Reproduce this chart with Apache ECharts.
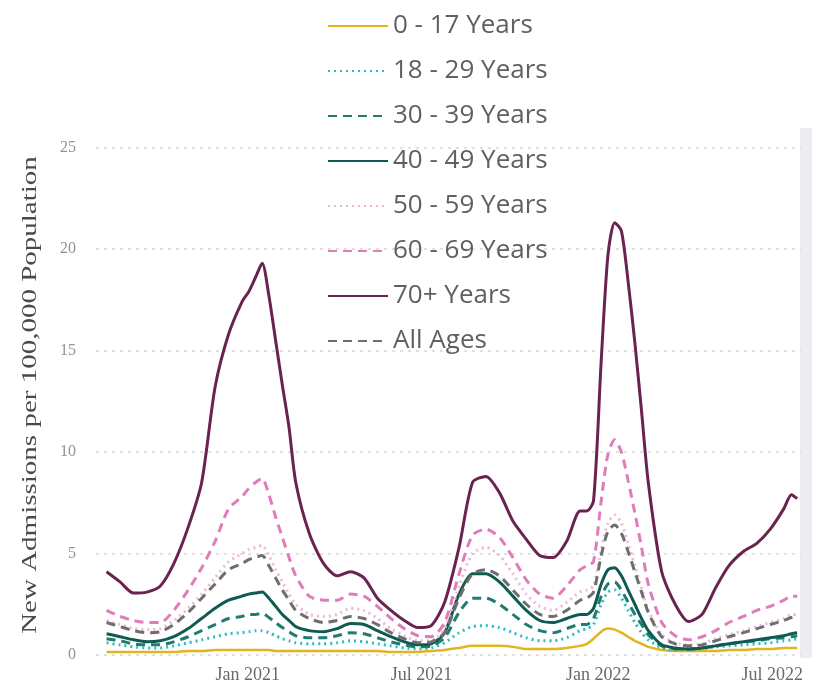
<!DOCTYPE html>
<html>
<head>
<meta charset="utf-8">
<script src="https://cdn.jsdelivr.net/npm/echarts@6/dist/echarts.min.js"></script>
<style>
html,body{margin:0;padding:0;background:#fff;}
#chart{width:824px;height:687px;}
</style>
</head>
<body>
<div id="chart"></div>
<script>
// ---- data ----
const dates = [
 '2020-08-07','2020-08-21','2020-09-04','2020-09-18','2020-10-02','2020-10-16','2020-10-31','2020-11-14','2020-11-28','2020-12-12',
 '2020-12-26','2021-01-02','2021-01-09','2021-01-16','2021-01-23','2021-01-30','2021-02-06','2021-02-13','2021-02-20','2021-03-06',
 '2021-03-21','2021-04-04','2021-04-18','2021-05-02','2021-05-16','2021-05-30','2021-06-13','2021-06-27','2021-07-11','2021-07-25',
 '2021-08-09','2021-08-23','2021-09-06','2021-09-20','2021-10-04','2021-10-18','2021-11-01','2021-11-15','2021-11-29','2021-12-13',
 '2021-12-20','2021-12-27','2022-01-04','2022-01-11','2022-01-18','2022-01-25','2022-02-01','2022-02-08','2022-02-15','2022-02-22',
 '2022-03-08','2022-03-22','2022-04-05','2022-04-19','2022-05-03','2022-05-17','2022-06-01','2022-06-15','2022-06-29','2022-07-13',
 '2022-07-21','2022-07-27'
];
const age0_17 = [0.15,0.15,0.15,0.15,0.15,0.15,0.2,0.2,0.25,0.25, 0.25,0.25,0.25,0.25,0.25,0.2,0.2,0.2,0.2,0.2, 0.2,0.2,0.2,0.2,0.2,0.15,0.15,0.15,0.2,0.25, 0.35,0.45,0.45,0.45,0.4,0.3,0.3,0.3,0.35,0.45, 0.55,0.8,1.15,1.3,1.25,1.1,0.9,0.7,0.55,0.4, 0.25,0.2,0.2,0.2,0.2,0.25,0.25,0.3,0.3,0.35, 0.35,0.35];
const age18_29 = [0.6,0.5,0.4,0.35,0.35,0.45,0.6,0.75,0.9,1.05, 1.1,1.15,1.2,1.2,1.1,0.95,0.8,0.7,0.6,0.55, 0.55,0.6,0.7,0.65,0.55,0.45,0.35,0.3,0.35,0.6, 1.1,1.4,1.45,1.35,1.1,0.85,0.7,0.7,0.85,1.2, 1.3,1.5,2.5,3.1,3.2,2.8,2.2,1.6,1.1,0.75, 0.35,0.25,0.25,0.3,0.4,0.45,0.5,0.55,0.6,0.7, 0.75,0.8];
const age30_39 = [0.8,0.7,0.55,0.5,0.5,0.65,0.9,1.2,1.5,1.8, 1.9,2.0,2.0,2.05,1.85,1.6,1.35,1.15,0.95,0.85, 0.85,0.95,1.1,1.05,0.85,0.65,0.5,0.4,0.45,0.85, 2.1,2.8,2.8,2.5,2.0,1.5,1.2,1.1,1.3,1.5, 1.5,1.8,2.9,3.5,3.6,3.2,2.6,2.0,1.5,1.0, 0.45,0.3,0.3,0.35,0.45,0.55,0.65,0.7,0.8,0.85, 0.9,0.95];
const age40_49 = [1.05,0.9,0.75,0.65,0.7,0.9,1.3,1.8,2.3,2.7, 2.9,3.0,3.05,3.1,2.8,2.4,2.0,1.7,1.4,1.2, 1.15,1.3,1.55,1.5,1.2,0.9,0.65,0.5,0.55,1.1, 3.0,4.0,4.0,3.6,2.9,2.2,1.7,1.6,1.8,2.0, 2.0,2.3,3.5,4.2,4.3,3.9,3.2,2.5,1.8,1.2, 0.5,0.35,0.3,0.35,0.45,0.55,0.65,0.75,0.85,0.95, 1.05,1.1];
const age50_59 = [1.7,1.5,1.3,1.25,1.3,1.7,2.3,3.0,3.8,4.6, 5.0,5.2,5.3,5.4,4.9,4.2,3.6,3.0,2.5,2.0, 1.9,2.0,2.3,2.2,1.8,1.3,0.95,0.7,0.7,1.3, 3.4,5.0,5.3,4.9,4.0,3.0,2.4,2.2,2.6,3.1, 3.2,3.4,5.2,6.5,6.9,6.5,5.5,4.4,3.3,2.2, 1.0,0.6,0.5,0.55,0.8,1.0,1.2,1.4,1.6,1.8, 2.0,2.0];
const age60_69 = [2.2,1.9,1.7,1.6,1.6,2.2,3.2,4.3,5.6,7.2, 7.8,8.2,8.5,8.7,7.9,6.8,5.8,4.8,3.9,2.9, 2.7,2.7,3.0,2.9,2.4,1.8,1.3,0.95,0.9,1.6, 4.0,5.9,6.2,5.8,4.8,3.7,3.0,2.8,3.4,4.2, 4.4,4.6,7.6,9.9,10.6,10.0,8.6,7.0,5.3,3.5, 1.6,0.95,0.75,0.9,1.2,1.6,1.9,2.2,2.4,2.7, 2.9,2.9];
const age70plus = [4.1,3.6,3.05,3.1,3.4,4.5,6.3,8.5,13.2,15.8, 17.4,17.9,18.6,19.3,17.7,15.5,13.3,11.2,8.5,6.0, 4.5,3.9,4.1,3.8,2.8,2.2,1.7,1.35,1.45,2.6, 5.3,8.5,8.8,8.0,6.6,5.7,4.9,4.8,5.6,7.1, 7.1,7.6,14.5,19.7,21.3,20.9,18.4,15.4,12.0,8.5, 4.1,2.5,1.65,2.0,3.3,4.4,5.1,5.5,6.2,7.2, 7.9,7.7];
const allAges = [1.6,1.4,1.2,1.1,1.15,1.5,2.1,2.8,3.5,4.2, 4.5,4.7,4.8,4.9,4.4,3.8,3.2,2.7,2.2,1.8, 1.6,1.7,1.9,1.8,1.5,1.1,0.8,0.6,0.65,1.1, 2.8,4.0,4.2,3.9,3.2,2.5,2.0,1.9,2.2,2.7, 2.8,3.1,4.9,6.1,6.4,6.0,5.1,4.1,3.1,2.1, 0.9,0.55,0.45,0.5,0.7,0.9,1.1,1.3,1.5,1.7, 1.85,1.9];

const seriesNames = ['0 - 17 Years','18 - 29 Years','30 - 39 Years','40 - 49 Years','50 - 59 Years','60 - 69 Years','70+ Years','All Ages'];
const seriesValues = [age0_17, age18_29, age30_39, age40_49, age50_59, age60_69, age70plus, allAges];
const xTickDates = ['2021-01-01','2021-07-01','2022-01-01','2022-07-01'];
const xTickLabels = ['Jan 2021','Jul 2021','Jan 2022','Jul 2022'];
const yTicks = [0,5,10,15,20,25];
const yTitle = 'New Admissions per 100,000 Population';

// ---- styles ----
const styles = [
  {color:'#E2B41E', type:'solid', width:2.5},
  {color:'#2FBAC0', type:[2,4], width:3},
  {color:'#1E7D70', type:[9,6], width:3},
  {color:'#0F5A52', type:'solid', width:3},
  {color:'#EDB8D6', type:[2,4], width:3},
  {color:'#E07CB9', type:[9,6], width:3},
  {color:'#6A2350', type:'solid', width:3},
  {color:'#6E6E6E', type:[9,6], width:3}
];

function ts(s){ const p=s.split('-'); return Date.UTC(+p[0], +p[1]-1, +p[2]); }
const tickTs = xTickDates.map(ts);

const series = seriesNames.map((name,i)=>({
  name: name,
  type:'line',
  symbol:'none',
  smooth:0.25,
  data: dates.map((d,j)=>[ts(d), seriesValues[i][j]]),
  lineStyle:{color:styles[i].color, type:styles[i].type, width:styles[i].width},
  itemStyle:{color:styles[i].color},
  z: 2 + (i===6 ? 10 : i)
}));

const chart = echarts.init(document.getElementById('chart'), null, {renderer:'canvas'});
chart.setOption({
  animation:false,
  backgroundColor:'#fff',
  grid:{left:96, right:23, top:147.6, bottom:32, containLabel:false},
  legend:{
    orient:'vertical',
    left:322, top:8,
    itemWidth:60, itemHeight:14, itemGap:19,
    itemStyle:{opacity:0},
    textStyle:{fontFamily:'Open Sans', fontSize:26, color:'#606060', lineHeight:26},
    data: seriesNames
  },
  xAxis:{
    type:'value',
    min: ts('2020-07-27'), max: ts('2022-07-31'),
    axisLine:{show:false}, axisTick:{show:false}, splitLine:{show:false},
    axisLabel:{
      customValues: tickTs,
      formatter: function(v){ const k = tickTs.indexOf(v); return k>=0 ? xTickLabels[k] : ''; },
      fontFamily:'Liberation Serif', fontSize:18, color:'#6a6a6a', margin:11,
      hideOverlap:false
    }
  },
  yAxis:{
    type:'value', min:0, max:25, interval:5,
    axisLine:{show:false}, axisTick:{show:false},
    axisLabel:{fontFamily:'Liberation Serif', fontSize:16, color:'#939393', margin:20,
      formatter:function(v){ return yTicks.indexOf(v)>=0 ? String(v) : ''; }},
    splitLine:{show:true, lineStyle:{color:'#d8d8d8', type:[3,5], width:1.5}}
  },
  graphic:[
    {type:'rect', shape:{x:800, y:128, width:12, height:530}, style:{fill:'#ededf1'}, z:-1, silent:true},
    {type:'text', x:31, y:395, rotation:Math.PI/2, scaleX:1.45, scaleY:1,
      style:{text:yTitle, fontFamily:'Liberation Serif', fontSize:20, fill:'#4a4a4a', align:'center', verticalAlign:'middle'}}
  ],
  series: series
});
</script>
</body>
</html>
